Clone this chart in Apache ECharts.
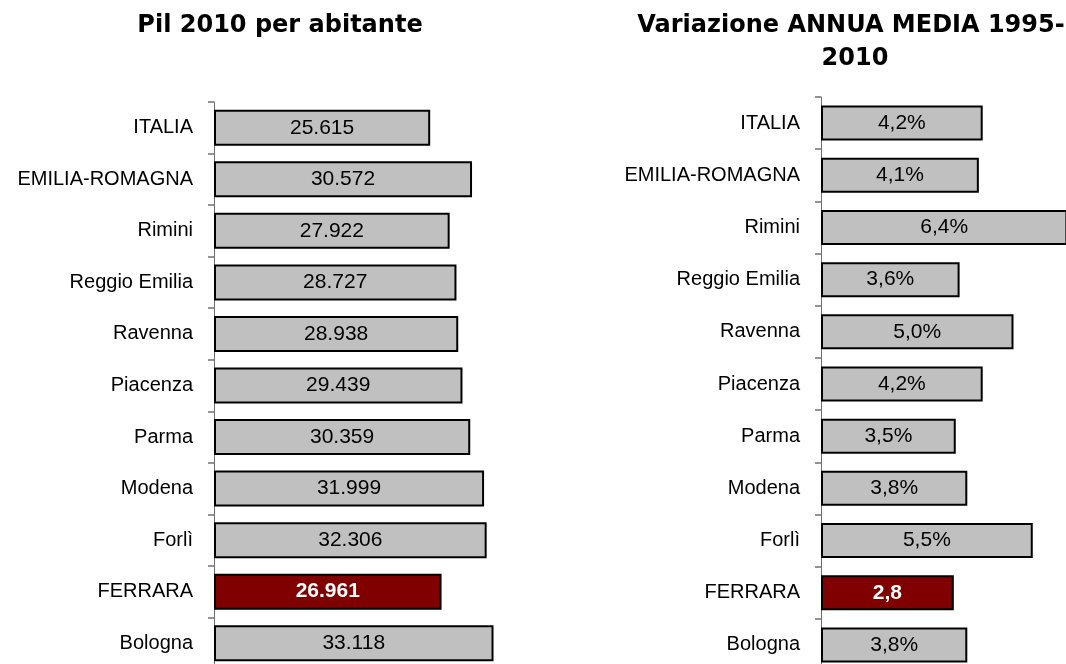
<!DOCTYPE html>
<html lang="it">
<head>
    <meta charset="UTF-8">
    <title>Pil per abitante</title>
    <style>
        html, body { margin: 0; padding: 0; background: #fff; }
        #main { width: 1066px; height: 664px; }
    </style>
</head>
<body>
<div id="main"></div>
<script src="https://cdn.jsdelivr.net/npm/echarts@6/dist/echarts.min.js"></script>
<script>
    // categorie (dall'alto verso il basso)
    var territori = ['ITALIA', 'EMILIA-ROMAGNA', 'Rimini', 'Reggio Emilia', 'Ravenna', 'Piacenza',
        'Parma', 'Modena', 'Forlì', 'FERRARA', 'Bologna'];
    // Pil 2010 per abitante
    var pil2010 = [25615, 30572, 27922, 28727, 28938, 29439, 30359, 31999, 32306, 26961, 33118];
    // variazione annua media 1995-2010 (lunghezza barre come nel grafico)
    var variazione = [4.2, 4.1, 6.4, 3.6, 5.0, 4.2, 3.5, 3.8, 5.5, 3.45, 3.8];
    // etichette della variazione come scritte nel grafico
    var variazioneLabel = ['4,2%', '4,1%', '6,4%', '3,6%', '5,0%', '4,2%', '3,5%', '3,8%', '5,5%', '2,8', '3,8%'];
    var evidenza = 'FERRARA';

    var font = 'Liberation Sans, Arial, sans-serif';
    var titleFont = 'DejaVu Sans, Verdana, sans-serif';

    function puntini(v) {
        return String(v).replace(/\B(?=(\d{3})+(?!\d))/g, '.');
    }

    // costruisce i dati con il colore della barra evidenziata
    function barre(valori) {
        var out = [];
        for (var i = 0; i < valori.length; i++) {
            var d = { value: valori[i] };
            if (territori[i] == evidenza) {
                d.itemStyle = { color: '#800000' };
                d.label = { color: '#fff', fontWeight: 'bold' };
            }
            out.push(d);
        }
        return out;
    }

    var asseCat = {
        type: 'category',
        data: territori,
        inverse: true,
        axisLine: { show: true, lineStyle: { color: '#707070', width: 1 } },
        axisTick: { show: true, length: 6, lineStyle: { color: '#707070', width: 1.5 } },
        axisLabel: { color: '#000', fontFamily: font, fontSize: 20, margin: 21 }
    };

    var myChart = echarts.init(document.getElementById('main'));
    var option = {
        animation: false,
        backgroundColor: '#fff',
        title: [
            {
                text: 'Pil 2010 per abitante', left: 275, top: 9, textAlign: 'center',
                textStyle: { fontFamily: titleFont, fontWeight: 'bold', fontSize: 24, color: '#000' }
            },
            {
                text: 'Variazione ANNUA MEDIA 1995-', left: 846, top: 9, textAlign: 'center',
                textStyle: { fontFamily: titleFont, fontWeight: 'bold', fontSize: 24, color: '#000' }
            },
            {
                text: '2010', left: 850, top: 42, textAlign: 'center',
                textStyle: { fontFamily: titleFont, fontWeight: 'bold', fontSize: 24, color: '#000' }
            }
        ],
        grid: [
            { left: 214, top: 102, width: 337.6, height: 567, outerBoundsMode: 'none' },
            { left: 821, top: 97, width: 269.5, height: 574, outerBoundsMode: 'none' }
        ],
        xAxis: [
            { type: 'value', gridIndex: 0, min: 0, max: 40000, show: false },
            { type: 'value', gridIndex: 1, min: 0, max: 7, show: false }
        ],
        yAxis: [
            Object.assign({ gridIndex: 0 }, asseCat),
            Object.assign({ gridIndex: 1 }, asseCat)
        ],
        series: [
            {
                type: 'bar', xAxisIndex: 0, yAxisIndex: 0,
                barWidth: 36,
                data: barre(pil2010),
                itemStyle: { color: '#c0c0c0', borderColor: '#000', borderWidth: 2 },
                label: {
                    show: true, position: 'inside', color: '#000', fontFamily: font, fontSize: 21,
                    formatter: function (p) { return puntini(p.value); }
                }
            },
            {
                type: 'bar', xAxisIndex: 1, yAxisIndex: 1,
                barWidth: 35,
                data: barre(variazione),
                itemStyle: { color: '#c0c0c0', borderColor: '#000', borderWidth: 2 },
                label: {
                    show: true, position: 'inside', color: '#000', fontFamily: font, fontSize: 21,
                    formatter: function (p) { return variazioneLabel[p.dataIndex]; }
                }
            }
        ]
    };
    myChart.setOption(option);
</script>
</body>
</html>
